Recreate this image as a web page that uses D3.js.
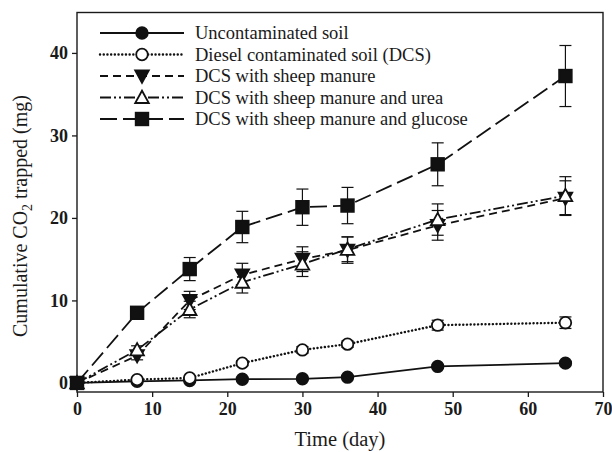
<!DOCTYPE html>
<html>
<head>
<meta charset="utf-8">
<script src="https://cdn.jsdelivr.net/npm/d3@7"></script>
<style>
	body { margin: 0; background: #fff; }
	svg { display: block; }
	text { font-family: "Liberation Serif", "Times New Roman", serif; fill: #1a1a1a; }
	.tick text { font-weight: bold; font-size: 18px; }
	.legend text { font-size: 18.5px; }
</style>
</head>
<body>
<div id="chart"></div>
<script>
// sampling days
var days = [0, 8, 15, 22, 30, 36, 48, 65];

// cumulative CO2 (mg) and error bars
var uncontaminated = [0, 0.2, 0.3, 0.45, 0.5, 0.7, 2.0, 2.4];
var uncontaminatedErr = [0, 0.1, 0.1, 0.1, 0.1, 0.1, 0.2, 0.2];
var dcs = [0, 0.4, 0.6, 2.4, 4.0, 4.7, 7.0, 7.3];
var dcsErr = [0, 0.2, 0.2, 0.3, 0.4, 0.4, 0.6, 0.7];
var sheep = [0, 3.3, 10.0, 13.1, 15.0, 16.1, 19.1, 22.4];
var sheepErr = [0, 0.5, 1.1, 1.4, 1.5, 1.6, 1.8, 2.1];
var urea = [0, 4.0, 8.9, 12.2, 14.4, 16.2, 19.8, 22.7];
var ureaErr = [0, 0.5, 1.0, 1.3, 1.5, 1.5, 1.9, 2.3];
var glucose = [0, 8.5, 13.8, 18.9, 21.3, 21.5, 26.5, 37.2];
var glucoseErr = [0, 0.7, 1.4, 1.9, 2.2, 2.2, 2.6, 3.7];

var seriesNames = [
	"Uncontaminated soil",
	"Diesel contaminated soil (DCS)",
	"DCS with sheep manure",
	"DCS with sheep manure and urea",
	"DCS with sheep manure and glucose"
];
var xTicks = [0, 10, 20, 30, 40, 50, 60, 70];
var yTicks = [0, 10, 20, 30, 40];

const WIDTH = 612;
const HEIGHT = 452;
const LEFT = 77, RIGHT = 603, TOP = 12.5, BOTTOM = 392;

var styles = [
	{ dash: null, marker: "circle", fill: "#111" },
	{ dash: "0.1,3.6", marker: "circle", fill: "#fff" },
	{ dash: "8,5", marker: "down", fill: "#111" },
	{ dash: "11,3,2,3,2,3", marker: "up", fill: "#fff" },
	{ dash: "17,6", marker: "square", fill: "#111" }
];

var values = [uncontaminated, dcs, sheep, urea, glucose];
var errors = [uncontaminatedErr, dcsErr, sheepErr, ureaErr, glucoseErr];

var series = seriesNames.map(function(name, k) {
	return {
		name: name,
		style: styles[k],
		points: days.map(function(d, j) {
			return { x: d, y: values[k][j], e: errors[k][j] };
		})
	};
});

var svg = d3.select("#chart").append("svg")
	.attr("width", WIDTH)
	.attr("height", HEIGHT);

var x = d3.scaleLinear().domain([0, 70]).range([LEFT, RIGHT]);
var y = d3.scaleLinear().domain([-1.1, 44.9]).range([BOTTOM, TOP]);

// axes
svg.append("g")
	.attr("transform", "translate(0," + BOTTOM + ")")
	.call(d3.axisBottom(x).tickValues(xTicks).tickSize(5).tickPadding(5).tickSizeOuter(0))
	.call(function(g) { g.select(".domain").remove(); });

svg.append("g")
	.attr("transform", "translate(" + LEFT + ",0)")
	.call(d3.axisLeft(y).tickValues(yTicks).tickSize(5).tickPadding(4).tickSizeOuter(0))
	.call(function(g) { g.select(".domain").remove(); });

svg.selectAll(".tick line").attr("stroke", "#1a1a1a").attr("stroke-width", 1.3);

// frame
svg.append("rect")
	.attr("x", LEFT)
	.attr("y", TOP)
	.attr("width", RIGHT - LEFT)
	.attr("height", BOTTOM - TOP)
	.attr("fill", "none")
	.attr("stroke", "#1a1a1a")
	.attr("stroke-width", 1.4);

// axis titles
svg.append("text")
	.attr("x", (LEFT + RIGHT) / 2)
	.attr("y", 446)
	.attr("text-anchor", "middle")
	.style("font-size", "20.5px")
	.text("Time (day)");

var yTitle = svg.append("text")
	.attr("transform", "translate(27,216) rotate(-90)")
	.attr("text-anchor", "middle")
	.style("font-size", "20px");
yTitle.append("tspan").text("Cumulative CO");
yTitle.append("tspan").attr("dy", 5).style("font-size", "14px").text("2");
yTitle.append("tspan").attr("dy", -5).text(" trapped (mg)");

var line = d3.line()
	.x(function(d) { return x(d.x); })
	.y(function(d) { return y(d.y); });

function drawMarker(g, type, fill) {
	if (type === "circle") {
		g.append("circle").attr("r", 5.8);
	} else if (type === "square") {
		g.append("rect").attr("x", -6.3).attr("y", -6.3).attr("width", 12.6).attr("height", 12.6);
	} else if (type === "down") {
		g.append("path").attr("d", "M-6.8,-5.5L6.8,-5.5L0,6.8Z");
	} else {
		g.append("path").attr("d", "M-6.8,5.5L6.8,5.5L0,-6.8Z");
	}
	g.selectAll("*")
		.attr("fill", fill)
		.attr("stroke", "#111")
		.attr("stroke-width", 1.8);
}

function styleLine(sel, s) {
	sel.attr("fill", "none")
		.attr("stroke", "#111")
		.attr("stroke-width", s.dash === "0.1,3.6" ? 2.4 : 1.8)
		.attr("stroke-linecap", s.dash === "0.1,3.6" ? "round" : "butt")
		.attr("stroke-dasharray", s.dash);
}

var plot = svg.append("g");

series.forEach(function(s) {
	var g = plot.append("g");

	g.append("path")
		.datum(s.points)
		.call(styleLine, s.style)
		.attr("d", line);

	// error bars
	var bars = g.selectAll(".err")
		.data(s.points.filter(function(d) { return d.e > 0; }))
		.enter().append("g")
		.attr("class", "err")
		.attr("stroke", "#111")
		.attr("stroke-width", 1.2);
	bars.append("line")
		.attr("x1", function(d) { return x(d.x); })
		.attr("x2", function(d) { return x(d.x); })
		.attr("y1", function(d) { return y(d.y - d.e); })
		.attr("y2", function(d) { return y(d.y + d.e); });
	[-1, 1].forEach(function(sign) {
		bars.append("line")
			.attr("x1", function(d) { return x(d.x) - 6; })
			.attr("x2", function(d) { return x(d.x) + 6; })
			.attr("y1", function(d) { return y(d.y + sign * d.e); })
			.attr("y2", function(d) { return y(d.y + sign * d.e); });
	});

	g.selectAll(".pt")
		.data(s.points)
		.enter().append("g")
		.attr("class", "pt")
		.attr("transform", function(d) { return "translate(" + x(d.x) + "," + y(d.y) + ")"; })
		.each(function() { drawMarker(d3.select(this), s.style.marker, s.style.fill); });
});

// legend
var legend = svg.append("g").attr("class", "legend");
series.forEach(function(s, k) {
	var ly = 33 + k * 21.5;
	var item = legend.append("g");
	item.append("line")
		.attr("x1", 100).attr("x2", 184)
		.attr("y1", ly).attr("y2", ly)
		.call(styleLine, s.style);
	var m = item.append("g").attr("transform", "translate(142," + ly + ")");
	drawMarker(m, s.style.marker, s.style.fill);
	item.append("text")
		.attr("x", 195)
		.attr("y", ly + 6)
		.text(s.name);
});
</script>
</body>
</html>
